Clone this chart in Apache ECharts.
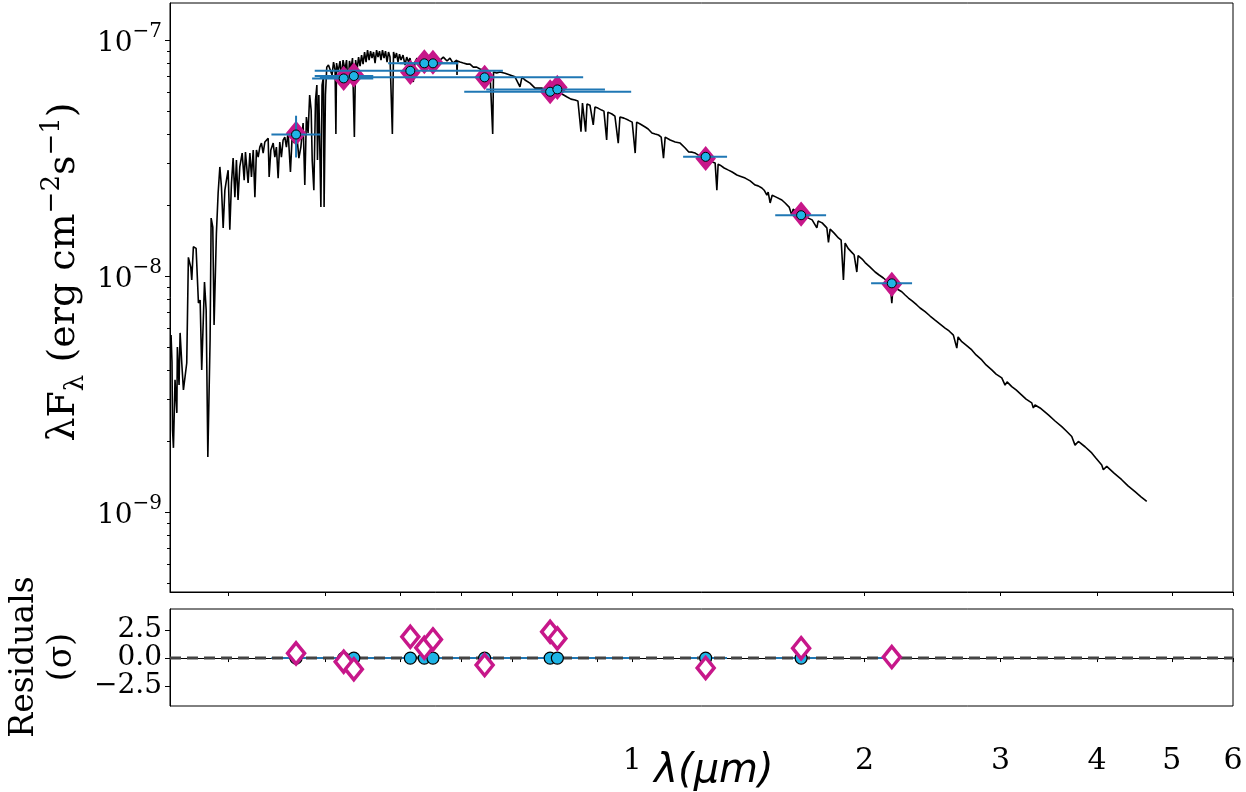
<!DOCTYPE html>
<html><head><meta charset="utf-8">
<script src="https://cdn.jsdelivr.net/npm/echarts@6.0.0/dist/echarts.min.js"></script>
<style>html,body{margin:0;padding:0;background:#fff;}#chart{width:1246px;height:792px;}</style>
</head><body><div id="chart"></div>
<script>
// ---- model spectrum (wavelength in micron, lambda*F_lambda in erg cm^-2 s^-1) ----
const modelWave = [
0.2528,0.2535,0.2539,0.2546,0.2558,0.2572,0.2576,0.2589,0.2597,0.2610,0.2623,0.2636,0.2649,0.2662,0.2681,0.2689,0.2702,0.2724,0.2743,0.2757,
0.2770,0.2793,0.2807,0.2821,0.2840,0.2849,0.2863,0.2874,0.2894,0.2909,0.2924,0.2938,0.2953,0.2968,0.2982,0.2997,0.3012,0.3027,0.3042,0.3058,
0.3072,0.3087,0.3103,0.3125,0.3144,0.3156,0.3181,0.3198,0.3213,0.3230,0.3246,0.3261,0.3278,0.3294,0.3310,0.3327,0.3344,0.3360,0.3377,0.3387,
0.3404,0.3428,0.3445,0.3461,0.3479,0.3496,0.3513,0.3531,0.3549,0.3566,0.3584,0.3609,0.3627,0.3649,0.3675,0.3701,0.3723,0.3748,0.3767,0.3785,
0.3804,0.3822,0.3839,0.3851,0.3870,0.3889,0.3905,0.3912,0.3928,0.3952,0.3966,0.3982,0.3990,0.4006,0.4022,0.4042,
0.4062,0.4086,0.4104,0.4123,0.4133,0.4141,0.4160,0.4184,0.4203,0.4222,0.4247,0.4266,0.4285,0.4304,0.4324,0.4343,0.4367,0.4383,0.4402,0.4422,
0.4442,0.4462,0.4482,0.4502,0.4522,0.4542,0.4563,0.4583,0.4603,0.4624,0.4645,0.4666,0.4686,0.4707,0.4728,0.4749,0.4771,0.4792,0.4814,0.4835,
0.4857,0.4891,0.4908,0.4930,0.4952,0.4974,0.4996,0.5019,0.5049,0.5079,0.5105,0.5133,0.5155,0.5178,0.5206,0.5232,0.5264,0.5295,0.5327,0.5359,
0.5391,0.5423,0.5472,0.5521,0.5583,0.5638,0.5694,0.5757,0.5808,0.5860,0.5925,0.5931,0.5939,0.5984,0.6043,0.6110,0.6165,0.6226,0.6290,0.6352,
0.6415,0.6486,0.6544,0.6597,0.6613,0.6676,0.6742,
0.6843,0.6946,0.7050,0.7156,0.7199,0.7263,0.7373,0.7484,0.7635,0.7733,0.7896,0.8014,0.8111,0.8225,0.8331,0.8431,0.8506,0.8584,0.8622,0.8704,
0.8739,0.8817,0.8904,0.8949,0.9029,0.9129,0.9192,0.9267,0.9302,0.9414,0.9498,0.9593,0.9641,0.9757,0.9883,1.0000,1.0090,1.0135,1.0241,1.0395,
1.0488,1.0606,1.0710,1.0817,1.0904,1.0979,1.1034,1.1200,1.1368,1.1539,
1.1598,1.1712,1.1829,1.1959,1.2066,1.2174,1.2310,1.2432,1.2555,1.2694,1.2807,1.2873,1.2922,1.3000,1.3156,1.3326,1.3474,1.3665,1.3799,1.4006,
1.4217,1.4430,1.4560,1.4722,1.4823,1.4943,1.5000,1.5090,1.5181,1.5363,1.5626,1.5780,1.5970,1.6099,1.6161,1.6341,1.6586,1.6750,1.6916,1.7103,
1.7345,1.7411,1.7621,1.7870,1.7956,1.8046,1.8263,1.8499,1.8648,1.8776,1.8871,1.9040,1.9252,1.9384,1.9541,1.9616,1.9852,
2.0030,2.0331,2.0636,2.0884,2.1153,2.1388,2.1580,2.1690,2.1774,2.2035,2.2346,2.2567,2.2791,2.3043,2.3369,2.3599,2.3953,2.4313,2.4678,2.5049,
2.5425,2.5730,2.6062,2.6328,2.6429,2.6724,2.7069,2.7532,2.7888,2.8365,2.8732,2.9223,2.9601,3.0108,3.0404,3.0587,3.1018,3.1420,3.1957,3.2371,
3.2924,3.3081,3.3248,
3.3749,3.4596,3.5292,3.6005,3.6470,3.7094,3.7460,3.7832,3.8593,3.9373,3.9882,4.0565,4.0759,4.1174,4.2079,4.3056,4.3870,4.4797,4.5606,4.6389
];
const modelFlux = [
5.62e-9,4.32e-9,2.23e-9,1.87e-9,3.63e-9,2.63e-9,5.00e-9,3.45e-9,5.74e-9,4.28e-9,3.29e-9,3.23e-9,4.28e-9,1.20e-8,1.09e-8,9.62e-9,1.33e-8,1.31e-8,7.68e-9,7.91e-9,
4.00e-9,9.43e-9,7.18e-9,1.71e-9,5.36e-9,1.76e-8,1.61e-8,6.20e-9,1.52e-8,2.25e-8,2.90e-8,2.38e-8,1.60e-8,2.31e-8,2.55e-8,2.81e-8,1.57e-8,2.48e-8,3.16e-8,2.16e-8,
3.10e-8,2.10e-8,2.90e-8,3.32e-8,2.55e-8,3.35e-8,2.48e-8,3.32e-8,2.63e-8,3.42e-8,2.16e-8,3.42e-8,3.19e-8,3.52e-8,3.66e-8,3.32e-8,3.70e-8,3.66e-8,3.84e-8,2.63e-8,
3.42e-8,3.66e-8,3.19e-8,3.52e-8,2.60e-8,3.70e-8,3.19e-8,3.77e-8,3.88e-8,3.52e-8,4.08e-8,2.76e-8,3.88e-8,3.66e-8,4.08e-8,3.16e-8,3.52e-8,4.45e-8,2.43e-8,4.72e-8,
4.04e-8,5.85e-8,5.05e-8,3.10e-8,2.31e-8,5.57e-8,6.45e-8,3.10e-8,5.85e-8,1.96e-8,6.45e-8,6.97e-8,1.96e-8,5.85e-8,7.68e-8,7.84e-8,
7.76e-8,7.11e-8,8.07e-8,7.46e-8,4.00e-8,7.99e-8,7.32e-8,8.15e-8,6.97e-8,8.23e-8,7.46e-8,8.23e-8,6.45e-8,8.15e-8,7.61e-8,8.39e-8,3.88e-8,8.23e-8,7.46e-8,8.47e-8,
7.76e-8,8.64e-8,7.91e-8,8.90e-8,8.07e-8,9.07e-8,8.23e-8,8.98e-8,8.39e-8,8.90e-8,7.99e-8,9.07e-8,8.47e-8,8.98e-8,8.23e-8,9.07e-8,8.39e-8,8.98e-8,8.07e-8,8.90e-8,
8.47e-8,4.00e-8,8.90e-8,8.39e-8,8.81e-8,8.07e-8,8.72e-8,8.23e-8,8.64e-8,7.84e-8,8.47e-8,8.07e-8,8.39e-8,7.76e-8,6.64e-8,8.07e-8,8.39e-8,7.76e-8,8.39e-8,8.07e-8,
8.55e-8,8.23e-8,8.64e-8,8.23e-8,8.47e-8,8.23e-8,8.47e-8,8.15e-8,8.39e-8,7.99e-8,8.23e-8,7.11e-8,8.15e-8,8.07e-8,7.99e-8,7.91e-8,7.91e-8,7.68e-8,7.68e-8,7.54e-8,
7.46e-8,7.32e-8,7.32e-8,4.00e-8,7.32e-8,7.25e-8,7.32e-8,
7.23e-8,7.11e-8,6.99e-8,6.34e-8,6.97e-8,6.77e-8,6.57e-8,6.26e-8,6.26e-8,6.14e-8,6.08e-8,6.02e-8,5.91e-8,5.75e-8,5.62e-8,5.57e-8,5.52e-8,4.09e-8,5.41e-8,4.09e-8,
5.36e-8,5.30e-8,4.37e-8,5.20e-8,5.15e-8,5.05e-8,5.00e-8,3.77e-8,4.95e-8,4.86e-8,4.76e-8,3.66e-8,4.72e-8,4.67e-8,4.58e-8,4.49e-8,3.32e-8,4.49e-8,4.41e-8,4.28e-8,
4.20e-8,4.04e-8,4.00e-8,3.96e-8,3.88e-8,3.16e-8,3.88e-8,3.77e-8,3.70e-8,3.66e-8,
3.59e-8,3.49e-8,3.36e-8,3.35e-8,3.32e-8,3.26e-8,3.20e-8,3.16e-8,3.10e-8,3.04e-8,3.01e-8,2.31e-8,2.98e-8,2.95e-8,2.87e-8,2.81e-8,2.76e-8,2.68e-8,2.65e-8,2.60e-8,
2.53e-8,2.43e-8,2.41e-8,2.36e-8,2.31e-8,2.20e-8,2.27e-8,2.04e-8,2.20e-8,2.16e-8,2.10e-8,2.04e-8,1.96e-8,1.81e-8,1.92e-8,1.87e-8,1.85e-8,1.80e-8,1.76e-8,1.73e-8,
1.60e-8,1.71e-8,1.68e-8,1.60e-8,1.39e-8,1.58e-8,1.52e-8,1.45e-8,1.42e-8,9.62e-9,1.38e-8,1.31e-8,1.26e-8,1.23e-8,1.04e-8,1.22e-8,1.18e-8,
1.14e-8,1.09e-8,1.04e-8,1.01e-8,9.81e-9,9.52e-9,9.34e-9,7.68e-9,9.07e-9,8.81e-9,8.58e-9,8.31e-9,8.07e-9,7.84e-9,7.54e-9,7.32e-9,7.06e-9,6.77e-9,6.51e-9,6.26e-9,
6.02e-9,5.85e-9,5.62e-9,4.95e-9,5.52e-9,5.27e-9,5.10e-9,4.86e-9,4.63e-9,4.41e-9,4.20e-9,4.00e-9,3.84e-9,3.70e-9,3.45e-9,3.56e-9,3.40e-9,3.29e-9,3.13e-9,3.01e-9,
2.90e-9,2.76e-9,2.84e-9,
2.76e-9,2.58e-9,2.43e-9,2.30e-9,2.21e-9,2.09e-9,1.92e-9,1.99e-9,1.89e-9,1.78e-9,1.69e-9,1.58e-9,1.51e-9,1.56e-9,1.46e-9,1.37e-9,1.29e-9,1.22e-9,1.16e-9,1.11e-9
];

// ---- photometry ----
const photWave      = [0.367, 0.423, 0.436, 0.516, 0.538, 0.552, 0.644, 0.783, 0.800, 1.245, 1.655, 2.169];
const photWaveLo    = [0.341, 0.385, 0.388, 0.388, 0.483, 0.500, 0.394, 0.606, 0.647, 1.164, 1.532, 2.039];
const photWaveHi    = [0.395, 0.462, 0.462, 0.680, 0.595, 0.595, 0.864, 0.997, 0.922, 1.327, 1.783, 2.304];
const obsFlux       = [3.98e-8, 6.88e-8, 7.04e-8, 7.41e-8, 7.97e-8, 7.97e-8, 6.95e-8, 6.04e-8, 6.18e-8, 3.20e-8, 1.81e-8, 9.31e-9];
const obsFluxErr    = [0.80e-8, 0.10e-8, 0.10e-8, 0.05e-8, 0.08e-8, 0.08e-8, 0.03e-8, 0.05e-8, 0.05e-8, 0.06e-8, 0.03e-8, 0.02e-8];
const modelPhotFlux = [4.03e-8, 6.88e-8, 7.11e-8, 7.30e-8, 8.09e-8, 8.05e-8, 6.95e-8, 6.04e-8, 6.30e-8, 3.15e-8, 1.83e-8, 9.22e-9];
const residuals     = [0.42, -0.33, -1.00, 1.90, 0.92, 1.67, -0.63, 2.35, 1.76, -0.89, 0.89, 0.09];
const obsResiduals  = [0, 0, 0, 0, 0, 0, 0, 0, 0, 0, 0, 0];
const zeroLine      = [0, 0];

// ---- ticks ----
const xTickValues  = [0.3, 0.4, 0.5, 0.6, 0.7, 0.8, 0.9, 1, 2, 3, 4, 5, 6];
const xLabelValues = [1, 2, 3, 4, 5, 6];
const yMajorValues = [1e-9, 1e-8, 1e-7];
const yMinorValues = [5e-10, 6e-10, 7e-10, 8e-10, 9e-10, 2e-9, 3e-9, 4e-9, 5e-9, 6e-9, 7e-9, 8e-9, 9e-9,
                      2e-8, 3e-8, 4e-8, 5e-8, 6e-8, 7e-8, 8e-8, 9e-8];
const residTickValues = [-2.5, 0, 2.5];

const SERIF = '"DejaVu Serif", serif';
const C_ERR = '#1f77b4', C_OBS = '#1fb4e6', C_MOD = '#c7178a';
const X_MIN = 0.252, X_MAX = 6, Y_MIN = 4.58e-10, Y_MAX = 1.436e-7;

const chart = echarts.init(document.getElementById('chart'), null, {renderer: 'canvas'});

function errRender(params, api) {
  const x = api.value(0), lo = api.value(1), hi = api.value(2), y = api.value(3), ylo = api.value(4), yhi = api.value(5);
  const a = api.coord([lo, y]), b = api.coord([hi, y]);
  const c = api.coord([x, ylo]), d = api.coord([x, yhi]);
  return {type: 'group', children: [
    {type: 'line', shape: {x1: a[0], y1: a[1], x2: b[0], y2: b[1]}, style: {stroke: C_ERR, lineWidth: 2}},
    {type: 'line', shape: {x1: c[0], y1: c[1], x2: d[0], y2: d[1]}, style: {stroke: C_ERR, lineWidth: 2}}
  ]};
}

const axisLineStyle = {show: true, lineStyle: {color: '#000', width: 1}};

const option = {
  animation: false,
  backgroundColor: '#fff',
  grid: [
    {left: 170, top: 3, width: 1063, height: 589, show: true, borderColor: '#000', borderWidth: 1, backgroundColor: 'transparent'},
    {left: 170, top: 609, width: 1063, height: 97, show: true, borderColor: '#000', borderWidth: 1, backgroundColor: 'transparent'}
  ],
  xAxis: [
    {gridIndex: 0, type: 'log', logBase: 10, min: X_MIN, max: X_MAX, position: 'bottom',
     axisLine: axisLineStyle, splitLine: {show: false},
     axisTick: {show: true, customValues: xTickValues, length: 4, lineStyle: {color: '#000'}},
     axisLabel: {show: false}},
    {gridIndex: 1, type: 'log', logBase: 10, min: X_MIN, max: X_MAX, position: 'bottom',
     axisLine: axisLineStyle, splitLine: {show: false},
     axisTick: {show: true, customValues: xTickValues, length: 4, lineStyle: {color: '#000'}},
     axisLabel: {show: true, customValues: xLabelValues, fontFamily: SERIF, fontSize: 30, color: '#000', margin: 40,
                 formatter: function (v) { return String(Math.round(v)); }}}
  ],
  yAxis: [
    {gridIndex: 0, type: 'log', logBase: 10, min: Y_MIN, max: Y_MAX, position: 'left',
     axisLine: axisLineStyle, splitLine: {show: false},
     axisTick: {show: true, customValues: yMajorValues, length: 5, lineStyle: {color: '#000'}},
     axisLabel: {show: true, customValues: yMajorValues, margin: 8,
       formatter: function (v) { const e = Math.round(Math.log10(v)); return '{b|10}{p|' + (e < 0 ? '\u2212' + (-e) : e) + '}'; },
       rich: {b: {fontFamily: SERIF, fontSize: 28, lineHeight: 36, verticalAlign: 'bottom', color: '#000'},
              p: {fontFamily: SERIF, fontSize: 20, lineHeight: 20, verticalAlign: 'top', color: '#000'}}}},
    {gridIndex: 0, type: 'log', logBase: 10, min: Y_MIN, max: Y_MAX, position: 'left', offset: 0,
     axisLine: {show: false}, splitLine: {show: false}, axisLabel: {show: false},
     axisTick: {show: true, customValues: yMinorValues, length: 3, lineStyle: {color: '#000'}}},
    {gridIndex: 1, type: 'value', min: -4.3, max: 4.4, position: 'left',
     axisLine: axisLineStyle, splitLine: {show: false},
     axisTick: {show: true, customValues: residTickValues, length: 5, lineStyle: {color: '#000'}},
     axisLabel: {show: true, customValues: residTickValues, fontFamily: SERIF, fontSize: 28, lineHeight: 20,
                 hideOverlap: false, color: '#000', margin: 8,
                 formatter: function (v) { return v.toFixed(1).replace('-', '\u2212'); }}}
  ],
  series: [
    {type: 'line', name: 'model', xAxisIndex: 0, yAxisIndex: 0, z: 1, silent: true,
     data: modelWave.map(function (w, i) { return [w, modelFlux[i]]; }),
     symbol: 'none', showSymbol: false, lineStyle: {color: '#000', width: 1.6}},
    {type: 'scatter', name: 'model phot', xAxisIndex: 0, yAxisIndex: 0, z: 2, silent: true,
     data: photWave.map(function (w, i) { return [w, modelPhotFlux[i]]; }),
     symbol: 'diamond', symbolSize: [18, 22],
     itemStyle: {color: C_MOD, borderColor: C_MOD, borderWidth: 2, opacity: 1}},
    {type: 'custom', name: 'obs err', xAxisIndex: 0, yAxisIndex: 0, z: 3, silent: true,
     data: photWave.map(function (w, i) { return [w, photWaveLo[i], photWaveHi[i], obsFlux[i], obsFlux[i] - obsFluxErr[i], obsFlux[i] + obsFluxErr[i]]; }),
     encode: {x: [0, 1, 2], y: [3, 4, 5]}, renderItem: errRender},
    {type: 'scatter', name: 'obs', xAxisIndex: 0, yAxisIndex: 0, z: 4, silent: true,
     data: photWave.map(function (w, i) { return [w, obsFlux[i]]; }),
     symbol: 'circle', symbolSize: 9,
     itemStyle: {color: C_OBS, borderColor: '#000', borderWidth: 1, opacity: 1}},
    // residuals panel
    {type: 'custom', name: 'res err', xAxisIndex: 1, yAxisIndex: 2, z: 2, silent: true,
     data: photWave.map(function (w, i) { return [w, photWaveLo[i], photWaveHi[i], obsResiduals[i], obsResiduals[i], obsResiduals[i]]; }),
     encode: {x: [0, 1, 2], y: [3, 4, 5]}, renderItem: errRender},
    {type: 'line', name: 'zero', xAxisIndex: 1, yAxisIndex: 2, z: 3, silent: true,
     data: [[X_MIN, zeroLine[0]], [X_MAX, zeroLine[1]]], symbol: 'none', showSymbol: false,
     lineStyle: {color: '#444444', width: 3, type: [11, 6]}},
    {type: 'scatter', name: 'res obs', xAxisIndex: 1, yAxisIndex: 2, z: 4, silent: true,
     data: photWave.map(function (w, i) { return [w, obsResiduals[i]]; }),
     symbol: 'circle', symbolSize: 12,
     itemStyle: {color: C_OBS, borderColor: '#000', borderWidth: 1.2, opacity: 1}},
    {type: 'scatter', name: 'res model', xAxisIndex: 1, yAxisIndex: 2, z: 5, silent: true,
     data: photWave.map(function (w, i) { return [w, residuals[i]]; }),
     symbol: 'diamond', symbolSize: [17, 21],
     itemStyle: {color: '#fff', borderColor: C_MOD, borderWidth: 3.5, opacity: 1}}
  ],
  graphic: [
    {type: 'text', x: 64, y: 272, rotation: Math.PI / 2, silent: true,
     style: {text: '{n|\u03bbF}{s|\u03bb}{n| (erg cm}{p|\u22122}{n|s}{p|\u22121}{n|)}', align: 'center', verticalAlign: 'middle',
       rich: {n: {fontFamily: SERIF, fontSize: 38, lineHeight: 50, verticalAlign: 'middle', fill: '#000'},
              s: {fontFamily: SERIF, fontSize: 26, lineHeight: 32, verticalAlign: 'bottom', fill: '#000'},
              p: {fontFamily: SERIF, fontSize: 26, lineHeight: 32, verticalAlign: 'top', fill: '#000'}}}},
    {type: 'text', x: 43, y: 657, rotation: Math.PI / 2, silent: true,
     style: {text: 'Residuals\n(\u03c3)', align: 'center', verticalAlign: 'middle', lineHeight: 38,
             font: '33px "DejaVu Serif"', fill: '#000'}},
    {type: 'text', x: 714, y: 772, silent: true,
     style: {text: '\u03bb(\u03bcm)', align: 'center', verticalAlign: 'middle',
             font: 'italic 40px "DejaVu Sans"', fill: '#000'}}
  ]
};
chart.setOption(option);
</script></body></html>
